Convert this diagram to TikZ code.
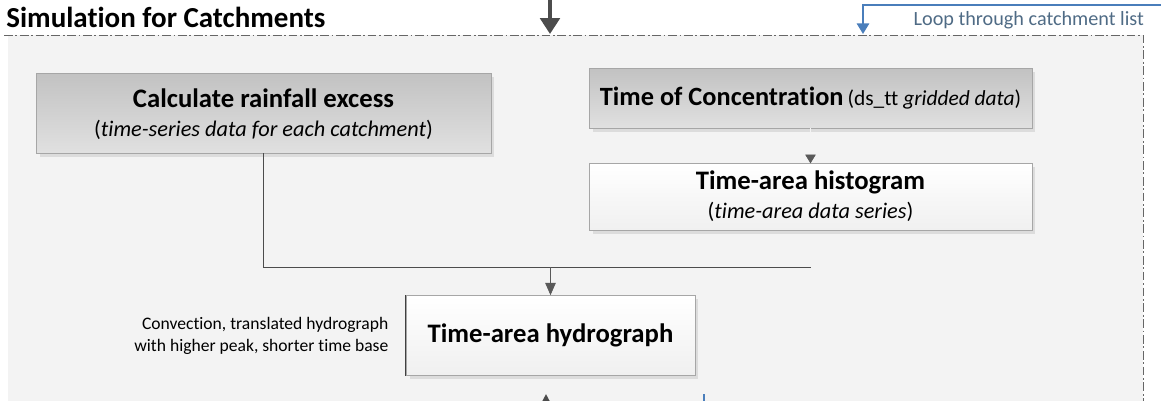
\documentclass[tikz,border=0pt]{standalone}
\usepackage{fontspec}
\setmainfont{Carlito}[Ligatures=NoCommon]
\usetikzlibrary{arrows.meta,positioning,shadows}
\definecolor{grpfill}{HTML}{F3F3F3}
\definecolor{loopblue}{HTML}{4A7EBB}
\definecolor{looptext}{HTML}{4F6B85}

\begin{document}
\begin{tikzpicture}[x=0.02cm, y=-0.02cm,
    box/.style = {draw=black!35, align=center, inner sep=0pt,
      drop shadow={opacity=0.2, shadow xshift=2pt, shadow yshift=-2pt}},
    grey box/.style = {box, top color=black!24, bottom color=black!12},
    white box/.style = {box, top color=white, bottom color=black!6},
    flow/.style = {draw=black!65, -{Triangle[length=7pt, width=6pt]}},
    big/.style = {inner sep=0pt, font=\fontsize{15.2}{18}\selectfont\bfseries},
    sub/.style = {inner sep=0pt, font=\fontsize{12.7}{15}\selectfont}
  ]
  \clip (0,0) rectangle (1161,400);

  % catchment group
  \fill[grpfill] (8,35) rectangle (1143,430);
  \draw[black!60, line width=0.5pt, dash pattern=on 5pt off 1.5pt on 1pt off 1.5pt] (4,35) -- (1143,35) -- (1143,430);
  \node[anchor=base west, inner sep=0pt, font=\fontsize{16.5}{18}\selectfont\bfseries] (title) at (6,27) {Simulation for Catchments};
  \coordinate (entry) at (550,34);
  \coordinate (loopin) at (863,34);

  \node[grey box, minimum width=9.1cm, minimum height=1.6cm] (rain) at (263.5,113) {};
  \node[big] (rain title) at (263.5,98) {Calculate rainfall excess};
  \node[sub] (rain sub) at (263.5,130) {(\textit{time-series data for each catchment})};

  \node[grey box, minimum width=8.86cm, minimum height=1.2cm] (toc) at (810.5,98)
    {{\fontsize{15}{18}\selectfont\bfseries Time of Concentration} {\fontsize{12.2}{15}\selectfont(ds\_tt \textit{gridded data})}};

  \node[white box, minimum width=8.86cm, minimum height=1.34cm, below=0.7cm of toc] (hist) {};
  \node[big] (hist title) at (810.5,182) {Time-area histogram};
  \node[sub] (hist sub) at (810.5,212) {(\textit{time-area data series})};

  \node[white box, minimum width=5.78cm, minimum height=1.6cm, big] (hydro) at (550.5,335.5) {Time-area hydrograph};
  \draw[black!75] (hydro.north west) -- (hydro.south west);
  \node[left=0.34cm of hydro.west, align=right, inner sep=0pt,
    font=\fontsize{10}{12.5}\selectfont] (note) {Convection, translated hydrograph\\with higher peak, shorter time base};

  % connectors
  \coordinate (join) at (263,267);
  \draw[black!70] (rain.south) |- (hist.south |- join);
  \draw[flow] (hydro.north |- join) -- (hydro.north);
  \draw[draw=grpfill, -{Triangle[length=5pt, width=6pt, color=black!65]}] (toc.south) -- (hist.north);
  \draw[black!70, line width=2.2pt, -{Triangle[length=9pt, width=11pt]}] (550,-10) -- (entry);
  \draw[loopblue, line width=1pt, -{Triangle[length=6pt, width=7pt]}] (1170,5) -| (loopin);
  \node[anchor=south east, inner sep=1pt, text=looptext, font=\fontsize{11.5}{13}\selectfont] (looplbl) at (1146,31) {Loop through catchment list};

  % outflow (cut off)
  \draw[black!70, line width=1.5pt, -{Triangle[length=8pt, width=8pt]}] (546,430) -- (546,394);
  \draw[loopblue, line width=1pt] (704,430) -- (704,394);
\end{tikzpicture}
\end{document}
